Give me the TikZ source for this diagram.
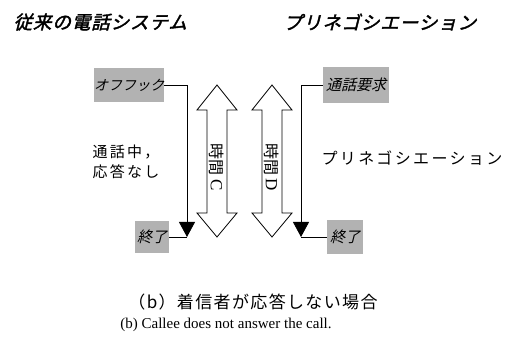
\documentclass[tikz,border=0pt]{standalone}
\usepackage{fontspec}
\setmainfont{Liberation Serif}
\newfontfamily\jp{Noto Sans CJK JP}
\newfontfamily\jpit[FakeSlant=0.25]{Noto Sans CJK JP}
\newfontfamily\jpbi[FakeSlant=0.25,FakeBold=2]{Noto Sans CJK JP}
\usetikzlibrary{arrows.meta}
\begin{document}
\begin{tikzpicture}[x=1pt,y=-1pt,
  graybox/.style={fill=black!30, inner sep=0pt, font=\jpit\fontsize{14}{14}\selectfont},
  flow/.style={line width=0.8pt},
  dbl/.style={draw, line width=0.8pt, fill=white},
  title/.style={anchor=west, font=\jpbi\fontsize{18.5}{18.5}\selectfont\addfontfeature{LetterSpace=5}},
  side/.style={font=\jp\fontsize{15}{20}\selectfont\addfontfeature{LetterSpace=15}},
  lbl/.style={rotate=-90, font=\jp\fontsize{16}{16}\selectfont}]
\useasboundingbox (0,0) rectangle (514,344);
% titles
\node[title] (t1) at (10,22) {従来の電話システム};
\node[title] (t2) at (280,22) {プリネゴシエーション};
% gray boxes
\node[graybox, minimum width=68, minimum height=34] (off) at (129,85) {オフフック};
\node[graybox, minimum width=34, minimum height=32, font=\jpit\fontsize{15}{15}\selectfont] (end1) at (152,237) {終了};
\node[graybox, minimum width=66, minimum height=36, font=\jpit\fontsize{15}{15}\selectfont] (req) at (356,85) {通話要求};
\node[graybox, minimum width=36, minimum height=34, font=\jpit\fontsize{15}{15}\selectfont] (end2) at (345,237) {終了};
% flow lines
\coordinate (lt) at (187,237);
\coordinate (rt) at (301,237);
\draw[flow,-{Triangle[width=16pt,length=15pt]}] (off.east) -| (lt);
\draw[flow] (end1.east) -- (lt);
\draw[flow,-{Triangle[width=16pt,length=15pt]}] (req.west) -| (rt);
\draw[flow] (end2.west) -- (rt);
% double arrows
\draw[dbl] (217,85) -- (237,110) -- (227,110) -- (227,213) -- (237,213) -- (217,237)
  -- (197,213) -- (207,213) -- (207,110) -- (197,110) -- cycle;
\draw[dbl] (272,85) -- (292,110) -- (282,110) -- (282,213) -- (292,213) -- (272,237)
  -- (252,213) -- (262,213) -- (262,110) -- (252,110) -- cycle;
\node[lbl] (tc) at (217,167) {時間 {\rmfamily\fontsize{17}{17}\selectfont C}};
\node[lbl] (td) at (272,167) {時間 {\rmfamily\fontsize{17}{17}\selectfont D}};
% side texts
\node[side, anchor=west, align=left] (busy) at (89,162) {通話中，\\応答なし};
\node[side, anchor=west, font=\jp\fontsize{16}{16}\selectfont\addfontfeature{LetterSpace=15}] (pn) at (318,158) {プリネゴシエーション};
% captions
\node[font=\jp\fontsize{17}{17}\selectfont\addfontfeature{LetterSpace=8}] (cap1) at (253,302) {（b）着信者が応答しない場合};
\node[font=\fontsize{15}{15}\selectfont] (cap2) at (226,325) {(b) Callee does not answer the call.};
\end{tikzpicture}
\end{document}
